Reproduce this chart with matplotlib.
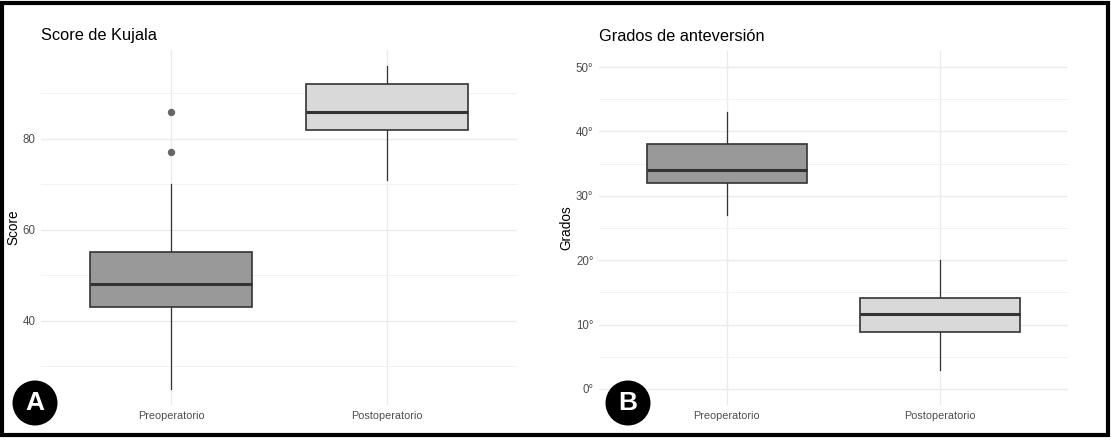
import matplotlib
matplotlib.use("Agg")
import matplotlib.pyplot as plt
from matplotlib.patches import Circle, Rectangle

plt.rcParams['font.family'] = ['Liberation Sans', 'DejaVu Sans']

W, H, DPI = 1111, 440, 100

# categories and box stats
groups = ["Preoperatorio", "Postoperatorio"]
fills = ["#999999", "#d9d9d9"]

# Score de Kujala
kuj_low = [25, 71]
kuj_q1 = [43, 82]
kuj_med = [48, 86]
kuj_q3 = [55, 92]
kuj_high = [70, 96]
kuj_out = [[77, 86], []]
kuj_ticks = [40, 60, 80]
kuj_minor = [30, 50, 70, 90]

# Grados de anteversion
ant_low = [27, 3]
ant_q1 = [32, 8.8]
ant_med = [34, 11.6]
ant_q3 = [38, 14.2]
ant_high = [43, 20]
ant_out = [[], []]
ant_ticks = [0, 10, 20, 30, 40, 50]
ant_labels = ["0°", "10°", "20°", "30°", "40°", "50°"]
ant_minor = [5, 15, 25, 35, 45]


def px_axes(fig, left, top, right, bottom):
    return fig.add_axes([left / W, 1 - bottom / H, (right - left) / W, (bottom - top) / H])


def boxpanel(ax, low, q1, med, q3, high, outl, ylim, ticks, labels, minor, title, ylabel):
    stats = []
    for i in range(len(groups)):
        stats.append(dict(whislo=low[i], q1=q1[i], med=med[i], q3=q3[i],
                          whishi=high[i], fliers=outl[i], label=groups[i]))
    bp = ax.bxp(stats, positions=[1, 2], widths=0.75, patch_artist=True,
                showcaps=False,
                boxprops=dict(edgecolor="#333333", linewidth=1.2),
                whiskerprops=dict(color="#333333", linewidth=0.9),
                medianprops=dict(color="#333333", linewidth=2.2, solid_capstyle="butt"),
                flierprops=dict(marker="o", markersize=4.3, markerfacecolor="#666666",
                                markeredgecolor="#666666"))
    for patch, c in zip(bp["boxes"], fills):
        patch.set_facecolor(c)
        patch.set_zorder(3)
    for m in bp["medians"]:
        m.set_zorder(4)

    ax.set_xlim(0.4, 2.6)
    ax.set_ylim(*ylim)
    ax.set_yticks(ticks)
    if labels is not None:
        ax.set_yticklabels(labels)
    ax.set_yticks(minor, minor=True)
    ax.grid(True, which="major", color="#ebebeb", linewidth=1.0, zorder=0)
    ax.grid(True, which="minor", axis="y", color="#f2f2f2", linewidth=0.7, zorder=0)
    ax.set_axisbelow(True)
    for s in ax.spines.values():
        s.set_visible(False)
    ax.tick_params(axis="y", length=0, labelsize=8.3, labelcolor="#4d4d4d", pad=4)
    ax.tick_params(axis="x", length=0, labelsize=7.8, labelcolor="#4d4d4d", pad=4)
    ax.tick_params(which="minor", length=0)
    ax.set_ylabel(ylabel, fontsize=9.8, color="black", labelpad=2)
    ax.set_title(title, loc="left", fontsize=11.8, pad=7)


fig = plt.figure(figsize=(W / DPI, H / DPI), dpi=DPI)

axA = px_axes(fig, 41.4, 50, 517, 405)
boxpanel(axA, kuj_low, kuj_q1, kuj_med, kuj_q3, kuj_high, kuj_out, (21.45, 99.55),
         kuj_ticks, None, kuj_minor, "Score de Kujala", "Score")

axB = px_axes(fig, 599, 51, 1068, 405)
boxpanel(axB, ant_low, ant_q1, ant_med, ant_q3, ant_high, ant_out, (-2.5, 52.5),
         ant_ticks, ant_labels, ant_minor, "Grados de anteversión", "Grados")

# panel letters
for cx, letter in [(35, "A"), (628, "B")]:
    fig.add_artist(Circle((cx / DPI, (H - 403) / DPI), 0.225, transform=fig.dpi_scale_trans,
                          facecolor="black", edgecolor="none", zorder=10))
    fig.text(cx / W, 1 - 403 / H, letter, color="white", fontsize=19, fontweight="bold",
             ha="center", va="center", zorder=11)

# outer frame
fig.add_artist(Rectangle((2 / W, 1 - 435 / H), 1106 / W, 432 / H, transform=fig.transFigure,
                         fill=False, edgecolor="black", linewidth=3.0, zorder=12))

fig.savefig("out.png", dpi=DPI)
